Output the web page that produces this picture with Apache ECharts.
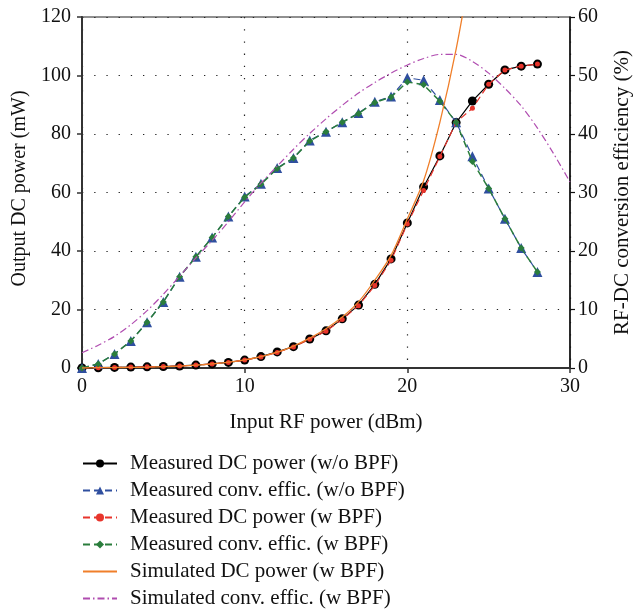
<!DOCTYPE html>
<html>
<head>
<meta charset="utf-8">
<script src="https://cdn.jsdelivr.net/npm/echarts@6/dist/echarts.min.js"></script>
<style>
  html, body { margin: 0; padding: 0; background: #fff; }
  #chart { width: 636px; height: 610px; }
</style>
</head>
<body>
<div id="chart"></div>
<script>
// input RF power (dBm)
const xMeas = [0,1,2,3,4,5,6,7,8,9,10,11,12,13,14,15,16,17,18,19,20,21,22,23,24,25,26,27,28];
const xSim = [0,1,2,3,4,5,6,7,8,9,10,11,12,13,14,15,16,17,18,19,20,21,22,23,24,25,26,27,28,29,30];

// output DC power (mW)
const dcNoBpf = [0,0.1,0.2,0.3,0.4,0.5,0.7,1.0,1.4,1.9,2.7,3.9,5.5,7.3,9.9,12.7,16.8,21.5,28.6,37.3,49.6,61.9,72.5,83.9,91.3,97,101.9,103.2,103.9];
const dcBpf = [0,0.1,0.2,0.3,0.4,0.5,0.7,1.0,1.4,1.9,2.7,3.8,5.3,7.2,9.8,12.6,16.6,21.3,28.2,36.8,49.2,60.7,72.3,84,88.8,97,101.9,103.2,103.9];
const dcSim = [0,0.1,0.15,0.2,0.3,0.45,0.65,0.95,1.4,2.0,2.8,3.9,5.4,7.5,10.2,13.4,17.4,22.6,30,38.5,51,64,84,109,140];

// RF-DC conversion efficiency (%)
const effNoBpf = [0,0.7,2.4,4.6,7.8,11.3,15.6,19,22.3,25.9,29.3,31.5,34.2,35.9,38.9,40.4,42,43.6,45.5,46.4,49.6,49.2,45.8,42,36.2,30.7,25.5,20.5,16.4];
const effBpf = [0,0.7,2.4,4.6,7.8,11.3,15.6,19,22.3,25.9,29.2,31.4,34.1,35.9,38.8,40.4,42,43.5,45.4,46.3,48.9,48.4,45.6,42,35.3,30.7,25.5,20.5,16.4];
const effSim = [2.6,3.9,5.4,7.4,9.8,12.6,15.7,18.8,21.8,25,28.4,31.6,34.5,37.4,40.1,42.6,44.9,47,48.8,50.4,51.8,52.9,53.6,53.6,52.4,50.4,47.8,44.8,41,36.6,31.8];

const names = [
  'Measured DC power (w/o BPF)',
  'Measured conv. effic. (w/o BPF)',
  'Measured DC power (w BPF)',
  'Measured conv. effic. (w BPF)',
  'Simulated DC power (w BPF)',
  'Simulated conv. effic. (w BPF)'
];

function pairs(xs, ys) {
  return ys.map((y, i) => [xs[i], y]);
}

const font = 'Liberation Serif';
const gridDots = { color: '#222', width: 1.2, type: [1.3, 10.9] };
// the simulated curves have no marker in the legend
const noMark = { opacity: 0 };

let myChart = echarts.init(document.getElementById('chart'), null, { renderer: 'canvas' });

let option = {
  backgroundColor: '#fff',
  animation: false,
  textStyle: { fontFamily: font, color: '#111' },
  grid: {
    left: 82, right: 66, top: 17, bottom: 242,
    outerBoundsMode: 'none', containLabel: false,
    show: true, borderColor: '#222', borderWidth: 1.2, backgroundColor: 'transparent'
  },
  legend: {
    orient: 'vertical',
    left: 82, top: 453, height: 200, padding: 0,
    itemWidth: 34, itemHeight: 10, itemGap: 6,
    textStyle: { fontFamily: font, fontSize: 21, color: '#111', padding: [0, 0, 0, 8] },
    data: [
      names[0], names[1], names[2], names[3],
      { name: names[4], itemStyle: noMark },
      { name: names[5], itemStyle: noMark }
    ]
  },
  xAxis: {
    type: 'value', min: 0, max: 30, interval: 10,
    name: 'Input RF power (dBm)', nameLocation: 'middle', nameGap: 44,
    nameTextStyle: { fontFamily: font, fontSize: 21, color: '#111' },
    axisLine: { lineStyle: { color: '#333', width: 2 } },
    axisTick: { show: true, inside: false, length: 5, lineStyle: { color: '#333', width: 1.5 } },
    axisLabel: { fontFamily: font, fontSize: 20, color: '#111', margin: 9 },
    splitLine: { show: true, lineStyle: gridDots }
  },
  yAxis: [{
    type: 'value', min: 0, max: 120, interval: 20,
    name: 'Output DC power (mW)', nameLocation: 'middle', nameGap: 39,
    nameTextStyle: { fontFamily: font, fontSize: 20, color: '#111', padding: [0, 0, 0, 8] },
    axisLine: { show: true, lineStyle: { color: '#333', width: 2 } },
    axisTick: { show: true, length: 5, lineStyle: { color: '#333', width: 1.5 } },
    axisLabel: { fontFamily: font, fontSize: 20, color: '#111', margin: 11 },
    splitLine: { show: true, lineStyle: gridDots }
  }, {
    type: 'value', min: 0, max: 60, interval: 10, position: 'right',
    name: 'RF-DC conversion efficiency (%)', nameLocation: 'middle', nameGap: 42,
    nameTextStyle: { fontFamily: font, fontSize: 21, color: '#111' },
    axisLine: { show: true, lineStyle: { color: '#111', width: 1.5 } },
    axisTick: { show: true, length: 5, lineStyle: { color: '#111', width: 1.2 } },
    axisLabel: { fontFamily: font, fontSize: 20, color: '#111', margin: 8 },
    splitLine: { show: false }
  }],
  series: [
    {
      name: names[0], type: 'line', yAxisIndex: 0,
      data: pairs(xMeas, dcNoBpf),
      symbol: 'circle', symbolSize: 9,
      itemStyle: { color: '#000' },
      lineStyle: { color: '#000', width: 1.2 },
      z: 2
    },
    {
      name: names[1], type: 'line', yAxisIndex: 1,
      data: pairs(xMeas, effNoBpf),
      symbol: 'triangle', symbolSize: 10,
      itemStyle: { color: '#2f4f9f' },
      lineStyle: { color: '#2f4f9f', width: 1.2, type: [7, 4] },
      z: 3
    },
    {
      name: names[2], type: 'line', yAxisIndex: 0,
      data: pairs(xMeas, dcBpf),
      symbol: 'circle', symbolSize: 5,
      itemStyle: { color: '#e8352c' },
      lineStyle: { color: '#e8352c', width: 1.2, type: [7, 4] },
      z: 4
    },
    {
      name: names[3], type: 'line', yAxisIndex: 1,
      data: pairs(xMeas, effBpf),
      symbol: 'diamond', symbolSize: 7,
      itemStyle: { color: '#2a7d3c' },
      lineStyle: { color: '#2a7d3c', width: 1.5, type: [7, 4] },
      z: 5
    },
    {
      name: names[4], type: 'line', yAxisIndex: 0,
      data: pairs(xSim, dcSim),
      symbol: 'none', smooth: 0.3, clip: true,
      itemStyle: { color: '#f07f2a' },
      lineStyle: { color: '#f07f2a', width: 1.3 },
      z: 6
    },
    {
      name: names[5], type: 'line', yAxisIndex: 1,
      data: pairs(xSim, effSim),
      symbol: 'none', smooth: 0.3,
      itemStyle: { color: '#b04cb0' },
      lineStyle: { color: '#b04cb0', width: 1.2, type: [7, 3, 1.5, 3] },
      z: 7
    }
  ]
};

option && myChart.setOption(option);
</script>
</body>
</html>
